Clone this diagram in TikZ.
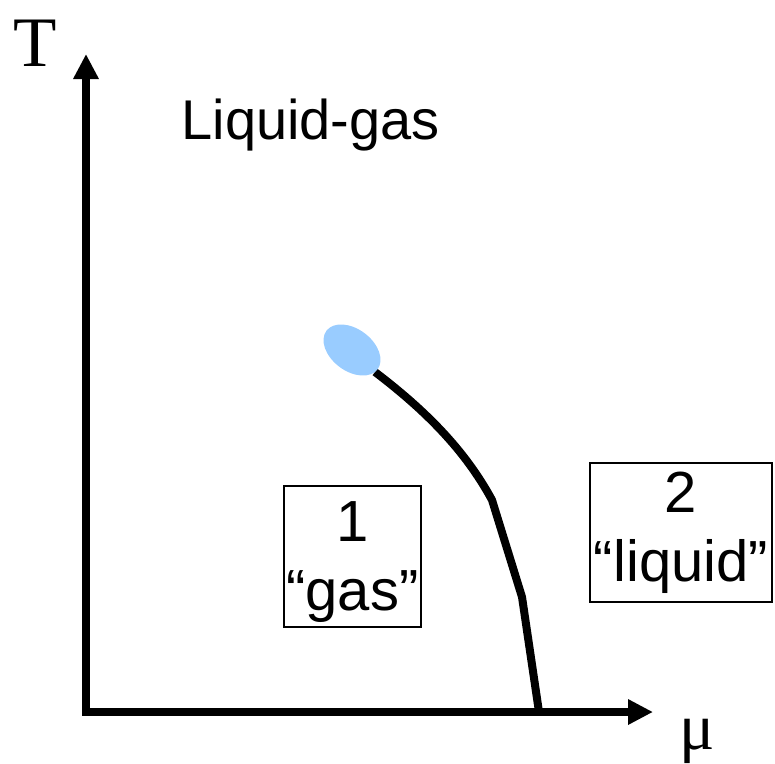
\documentclass[tikz,border=0pt]{standalone}
\usepackage{fontspec}
\setmainfont{Liberation Serif}
\newfontfamily\arialf{Liberation Sans}
\usetikzlibrary{shapes.geometric, arrows.meta, positioning}
\definecolor{critblue}{RGB}{153,204,255}

\begin{document}
\begin{tikzpicture}[x=1pt,y=-1pt,>={Triangle[width=24pt,length=25pt]},
        axis/.style={line width=8pt, miter limit=4},
        phase/.style={draw, line width=1.5pt, inner sep=0pt, align=center, font=\arialf\fontsize{58}{69}\selectfont},
        curve/.style={line width=8pt}]
        \useasboundingbox (0,0) rectangle (775,763);
        \coordinate (top) at (86,54);
        \coordinate (org) at (86,712);
        \coordinate (right) at (653,712);
        \draw[axis, <->] (top) -- (org) -- (right);
        \node[font=\fontsize{71}{71}\selectfont] (T) at (35,43) {T};
        \node[font=\fontsize{66}{66}\selectfont, anchor=base] (mu) at (697,749) {μ};
        \node[font=\arialf\fontsize{56}{56}\selectfont, anchor=base west] (title) at (178,139) {Liquid-gas};
        \node[phase, minimum width=137pt, minimum height=141pt] (gas) at (352.5,556.5) {\rule{0pt}{52pt}1\\“gas”};
        \node[phase, minimum width=182pt, minimum height=139pt] (liq) at (681,532.5) {2\\“liquid”};
        % coexistence line
        \coordinate (cp) at (375,372);
        \coordinate (k1) at (492,500);
        \coordinate (k2) at (522,597);
        \coordinate (foot) at (539,712);
        \draw[curve] (cp) .. controls (425,410) and (465,450) .. (k1) -- (k2) -- (foot);
        % critical point
        \node[ellipse, fill=critblue, minimum width=64pt, minimum height=42pt, inner sep=0pt, rotate=-37] (crit) at (352,350) {};
\end{tikzpicture}
\end{document}
